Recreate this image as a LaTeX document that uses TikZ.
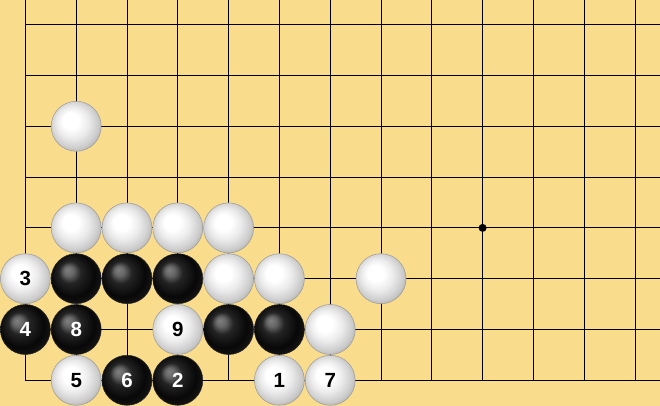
\documentclass[tikz,border=0pt]{standalone}
\usepackage{fontspec}
\newfontfamily\numfont[BoldFont={Liberation Sans Bold}]{Liberation Sans}
\definecolor{goban}{RGB}{249,220,140}
\pgfdeclareradialshading{sfnera}{\pgfpoint{-9bp}{9bp}}{color(0bp)=(black!50!white); color(5bp)=(black!60!white); color(11bp)=(black!86!white); color(22bp)=(black!97!white); color(30bp)=(black!90!white); color(34bp)=(black!72!white); color(38bp)=(black!92!white)}
\pgfdeclareradialshading{sfbianca}{\pgfpoint{-7bp}{7bp}}{color(0bp)=(white); color(8bp)=(white); color(16bp)=(black!8!white); color(24bp)=(black!20!white); color(30bp)=(black!34!white); color(36bp)=(black!45!white)}
\tikzset{
  pietra/.style={circle, minimum size=50pt, inner sep=0pt, line width=0.5pt, font=\numfont\bfseries\fontsize{20.5}{24}\selectfont},
  nera/.style={pietra, shading=sfnera, draw=black!85, text=white},
  bianca/.style={pietra, shading=sfbianca, draw=black!40, text=black},
}
\begin{document}
\begin{tikzpicture}[x=50.8pt, y=50.8pt]
        % Goban
        \useasboundingbox (-0.5,-0.506) rectangle (12.492,7.486);
        \fill[goban] (-0.5,-0.506) rectangle (12.492,7.486); % sfondo
        \draw[step=1, line width=1pt] (0,0) grid (12.492,7.486); % griglia
        \fill (9,3) circle (4pt); % hoshi

        % Pietre bianche
        \node[bianca] (wa) at (1,5) {};
        \node[bianca] (wb) at (1,3) {};
        \node[bianca] (wc) at (2,3) {};
        \node[bianca] (wd) at (3,3) {};
        \node[bianca] (we) at (4,3) {};
        \node[bianca] (wf) at (4,2) {};
        \node[bianca] (wg) at (5,2) {};
        \node[bianca] (wh) at (7,2) {};
        \node[bianca] (wi) at (6,1) {};

        % Pietre nere
        \node[nera] (ba) at (1,2) {};
        \node[nera] (bb) at (2,2) {};
        \node[nera] (bc) at (3,2) {};
        \node[nera] (bd) at (4,1) {};
        \node[nera] (be) at (5,1) {};

        % Sequenza
        \node[bianca] (w1) at (5,0) {1};
        \node[nera] (b2) at (3,0) {2};
        \node[bianca] (w3) at (0,2) {3};
        \node[nera] (b4) at (0,1) {4};
        \node[bianca] (w5) at (1,0) {5};
        \node[nera] (b6) at (2,0) {6};
        \node[bianca] (w7) at (6,0) {7};
        \node[nera] (b8) at (1,1) {8};
        \node[bianca] (w9) at (3,1) {9};
\end{tikzpicture}
\end{document}
